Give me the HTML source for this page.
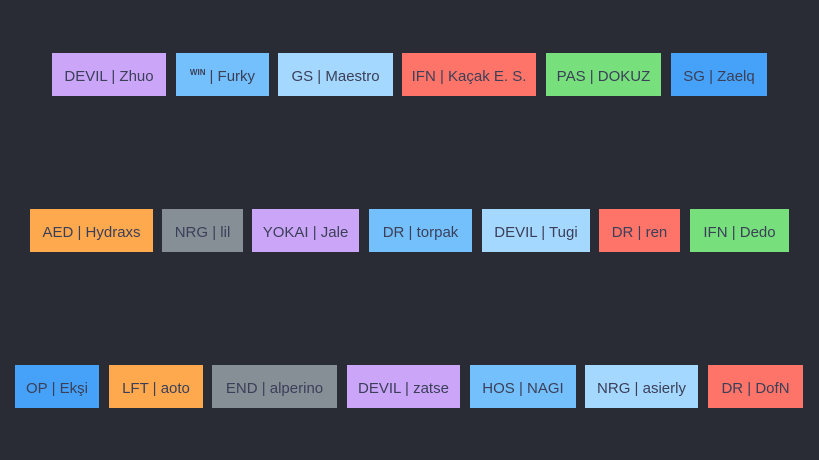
<!DOCTYPE html>
<html><head><style>
body{margin:0;width:819px;height:460px;background:#2a2c35;overflow:hidden;position:relative;font-family:"Liberation Sans","DejaVu Sans",sans-serif}
.b{position:absolute;height:43px;display:flex;align-items:center;justify-content:center;padding-top:3px;box-sizing:border-box;font-size:15px;color:#3b3f58;white-space:nowrap}
.p{background:#cba6f8}.l{background:#74c0fc}.x{background:#a5d8ff}.r{background:#ff7468}.g{background:#77e07d}.u{background:#45a2f8}.o{background:#ffa94f}.y{background:#868e96}
.w{font-size:8px;font-weight:bold;position:relative;top:-4px;margin-right:4px}
</style></head><body>
<div class="b p" style="left:52px;top:53px;width:114px">DEVIL | Zhuo</div>
<div class="b l" style="left:176px;top:53px;width:93px"><span class="w">WIN</span>| Furky</div>
<div class="b x" style="left:278px;top:53px;width:115px">GS | Maestro</div>
<div class="b r" style="left:402px;top:53px;width:134px">IFN | Kaçak E. S.</div>
<div class="b g" style="left:546px;top:53px;width:115px">PAS | DOKUZ</div>
<div class="b u" style="left:671px;top:53px;width:96px">SG | Zaelq</div>

<div class="b o" style="left:30px;top:209px;width:123px">AED | Hydraxs</div>
<div class="b y" style="left:162px;top:209px;width:81px">NRG | lil</div>
<div class="b p" style="left:252px;top:209px;width:107px">YOKAI | Jale</div>
<div class="b l" style="left:369px;top:209px;width:103px">DR | torpak</div>
<div class="b x" style="left:482px;top:209px;width:108px">DEVIL | Tugi</div>
<div class="b r" style="left:599px;top:209px;width:81px">DR | ren</div>
<div class="b g" style="left:690px;top:209px;width:99px">IFN | Dedo</div>

<div class="b u" style="left:15px;top:365px;width:84px">OP | Ekşi</div>
<div class="b o" style="left:109px;top:365px;width:94px">LFT | aoto</div>
<div class="b y" style="left:212px;top:365px;width:125px">END | alperino</div>
<div class="b p" style="left:347px;top:365px;width:113px">DEVIL | zatse</div>
<div class="b l" style="left:470px;top:365px;width:106px">HOS | NAGI</div>
<div class="b x" style="left:585px;top:365px;width:113px">NRG | asierly</div>
<div class="b r" style="left:708px;top:365px;width:95px">DR | DofN</div>
</body></html>
